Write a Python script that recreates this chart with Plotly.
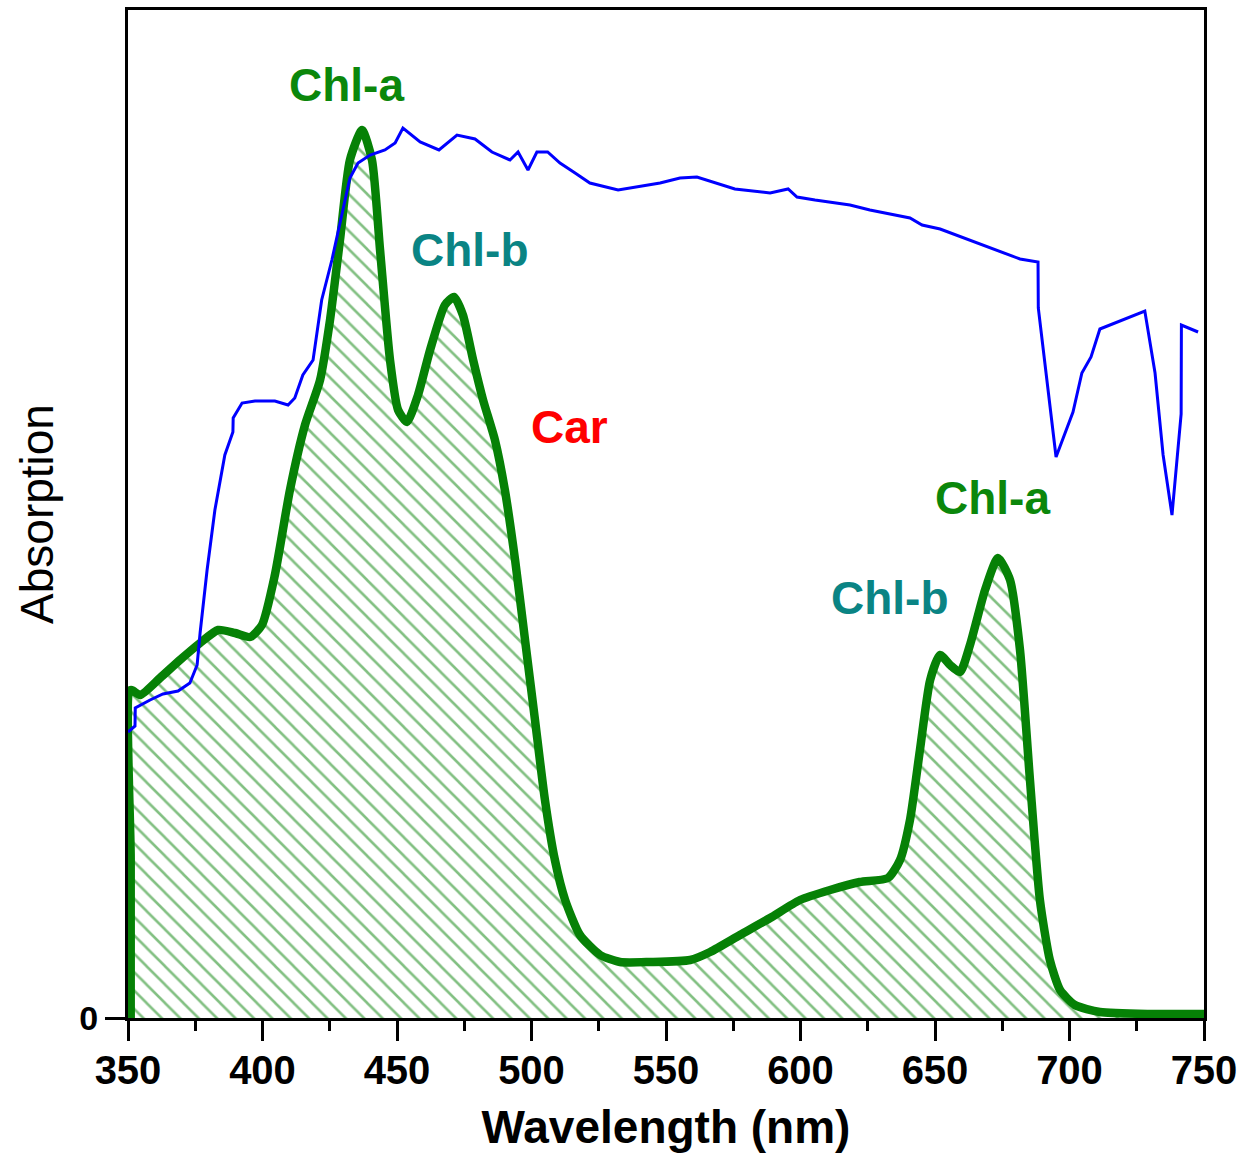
import plotly.graph_objects as go

# Chlorophyll extract absorption spectrum (nm, arbitrary units)
chl_wavelength = [351.0, 351.0, 351.0, 354.5, 361.9, 369.3, 376.8, 383.5, 389.8, 395.4, 399.8,
                  404.6, 410.2, 415.8, 421.4, 425.1, 428.8, 432.5, 437.0, 440.7, 443.7,
                  447.4, 450.4, 453.7, 457.8, 462.3, 467.8, 471.2, 474.5, 478.3, 482.0,
                  486.4, 490.1, 493.9, 497.6, 501.3, 505.0, 508.7, 512.5, 518.0, 525.5,
                  532.9, 544.0, 559.0, 566.4, 577.5, 588.7, 599.8, 611.0, 622.0, 632.5,
                  637.0, 640.7, 644.4, 648.2, 651.9, 655.6, 659.3, 663.0, 668.6, 673.4,
                  677.9, 681.6, 685.3, 689.0, 692.7, 696.5, 702.0, 711.3, 730.0, 750.0]
chl_absorption = [0.0, 16.0, 32.8, 32.3, 34.0, 35.8, 37.5, 38.8, 38.5, 38.1, 39.3,
                  44.3, 52.8, 59.3, 63.8, 69.8, 77.8, 85.8, 88.8, 85.8, 76.8,
                  65.8, 60.8, 59.6, 62.3, 66.8, 71.3, 72.1, 70.3, 65.8, 61.8,
                  57.8, 52.8, 45.8, 37.8, 29.8, 21.8, 15.8, 11.8, 8.3, 6.3,
                  5.6, 5.6, 5.8, 6.6, 8.3, 10.0, 11.8, 12.8, 13.6, 14.0,
                  15.8, 19.8, 26.8, 33.8, 36.3, 35.3, 34.6, 37.3, 42.8, 46.0,
                  43.8, 36.8, 23.8, 11.8, 5.8, 2.8, 1.3, 0.6, 0.4, 0.4]

# Reference absorption spectrum (blue trace)
ref_wavelength = [350.0, 352.6, 352.7, 358.2, 363.0, 368.6, 373.0, 375.7, 376.8, 379.4,
                  382.3, 386.0, 389.0, 389.1, 392.4, 397.2, 404.6, 409.5, 412.0, 415.0,
                  418.8, 422.0, 425.8, 429.6, 432.5, 435.5, 440.0, 445.5, 449.3, 452.2,
                  458.6, 465.6, 472.3, 479.0, 485.3, 492.0, 495.0, 498.7, 502.0, 506.0,
                  510.6, 516.2, 521.7, 532.2, 547.8, 555.2, 561.5, 575.6, 588.7, 595.4,
                  598.7, 605.4, 618.4, 625.8, 640.7, 645.2, 651.9, 681.6, 688.3, 688.4,
                  695.0, 701.3, 704.6, 708.0, 711.3, 728.0, 731.8, 734.8, 738.1, 741.5,
                  741.6, 747.8]
ref_absorption = [28.6, 29.2, 31.0, 31.8, 32.4, 32.7, 33.5, 35.3, 38.5, 44.8,
                  50.8, 56.3, 58.6, 60.0, 61.5, 61.7, 61.7, 61.3, 62.0, 64.3,
                  65.8, 71.8, 75.8, 80.3, 84.0, 85.5, 86.3, 86.8, 87.5, 89.0,
                  87.6, 86.8, 88.3, 87.9, 86.6, 85.8, 86.6, 84.8, 86.6, 86.6,
                  85.5, 84.5, 83.5, 82.8, 83.5, 84.0, 84.1, 82.9, 82.5, 82.9,
                  82.1, 81.8, 81.3, 80.8, 80.0, 79.3, 78.9, 75.9, 75.6, 71.0,
                  56.1, 60.6, 64.5, 66.1, 68.9, 70.7, 64.5, 56.3, 50.3, 60.4,
                  69.3, 68.6]

# Pigment band labels
band_labels = ["Chl-a", "Chl-b", "Car", "Chl-a", "Chl-b"]
band_x = [431.4, 477.1, 514.3, 671.2, 633.3]
band_y = [93.3, 76.8, 59.1, 52.0, 42.0]
band_colors = ["#0b870b", "#0a8484", "#ff0000", "#0b870b", "#0a8484"]

x_ticks = [350, 400, 450, 500, 550, 600, 650, 700, 750]

FONT = "Arial, 'Liberation Sans', sans-serif"
GREEN = "#068106"

fig = go.Figure()

fig.add_trace(go.Scatter(
    x=chl_wavelength, y=chl_absorption, mode="lines",
    line=dict(color=GREEN, width=8.5, shape="spline", smoothing=0.6),
    fill="tozeroy", fillcolor="rgba(0,0,0,0)",
    fillpattern=dict(shape="\\", fgcolor=GREEN, bgcolor="rgba(0,0,0,0)",
                     size=13, solidity=0.2),
    showlegend=False,
))

fig.add_trace(go.Scatter(
    x=ref_wavelength, y=ref_absorption, mode="lines",
    line=dict(color="#0000ff", width=3),
    showlegend=False,
))

for label, x, y, c in zip(band_labels, band_x, band_y, band_colors):
    fig.add_annotation(x=x, y=y, text=f"<b>{label}</b>", showarrow=False,
                       font=dict(family=FONT, size=46, color=c))

fig.update_layout(
    width=1239, height=1156,
    margin=dict(l=128, r=35, t=10, b=138, autoexpand=False),
    paper_bgcolor="white", plot_bgcolor="white",
    font=dict(family=FONT, color="black"),
)

fig.update_xaxes(
    range=[350, 750], tickvals=x_ticks, ticktext=[str(v) for v in x_ticks],
    automargin=False,
    showgrid=False, zeroline=False,
    showline=True, mirror=True, linecolor="black", linewidth=3,
    ticks="outside", ticklen=20, tickwidth=3, tickcolor="black",
    ticklabelstandoff=-5,
    tickfont=dict(family=FONT, size=40, color="black", weight="bold"),
    minor=dict(tickvals=[375, 425, 475, 525, 575, 625, 675, 725],
               ticks="outside", ticklen=10, tickwidth=3, tickcolor="black"),
    title=dict(text="<b>Wavelength (nm)</b>", standoff=20,
               font=dict(family=FONT, size=46, color="black")),
)

fig.update_yaxes(
    range=[0, 100.8], tickvals=[0], ticktext=["0"],
    automargin=False,
    showgrid=False, zeroline=False,
    showline=True, mirror=True, linecolor="black", linewidth=3,
    ticks="outside", ticklen=20, tickwidth=3, tickcolor="black",
    tickfont=dict(family=FONT, size=34, color="black", weight="bold"),
    title=dict(text="Absorption", standoff=12,
               font=dict(family=FONT, size=46, color="black")),
)

fig.write_html("out.html")
